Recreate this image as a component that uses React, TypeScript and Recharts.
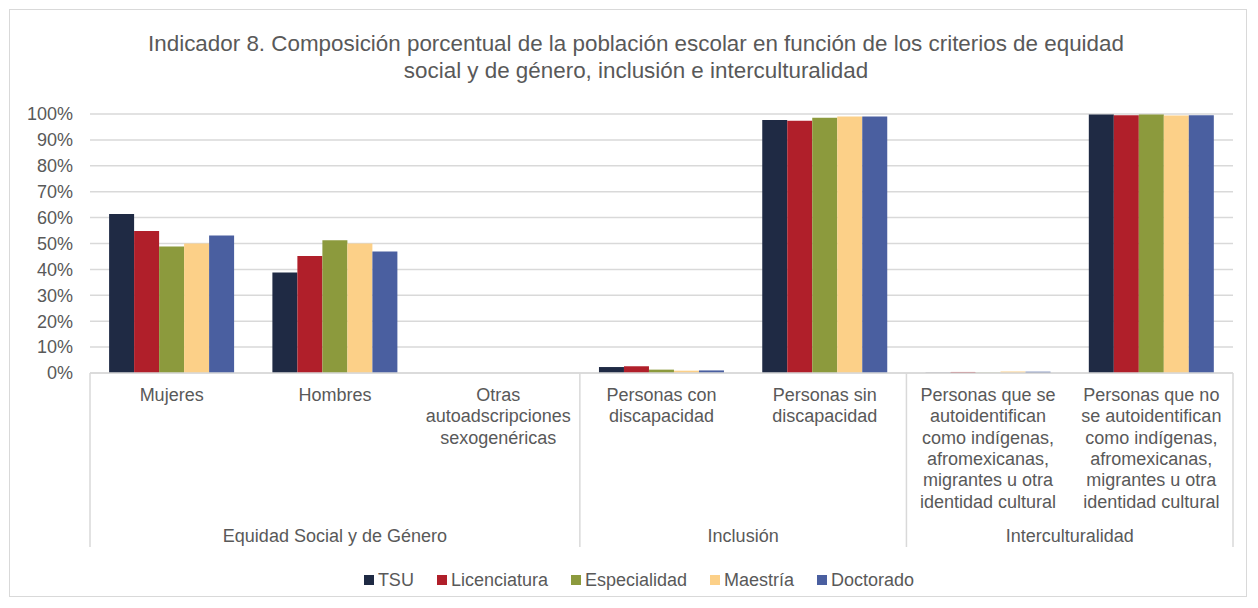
import React from 'react';
import { BarChart, Bar, XAxis, YAxis, CartesianGrid, Legend } from 'recharts';

const categories = [
  'Mujeres',
  'Hombres',
  'Otras\nautoadscripciones\nsexogenéricas',
  'Personas con\ndiscapacidad',
  'Personas sin\ndiscapacidad',
  'Personas que se\nautoidentifican\ncomo indígenas,\nafromexicanas,\nmigrantes u otra\nidentidad cultural',
  'Personas que no\nse autoidentifican\ncomo indígenas,\nafromexicanas,\nmigrantes u otra\nidentidad cultural',
];

const groupNames = ['Equidad Social y de Género', 'Inclusión', 'Interculturalidad'];
const groupStarts = [0, 3, 5];
const groupCounts = [3, 2, 2];

const seriesNames = ['TSU', 'Licenciatura', 'Especialidad', 'Maestría', 'Doctorado'];
const seriesColors = ['#1F2A44', '#B01F2A', '#8C9A3D', '#FCD088', '#4A5FA0'];

const tsu = [61.4, 38.8, 0, 2.3, 97.7, 0.1, 99.8];
const licenciatura = [54.8, 45.2, 0, 2.6, 97.4, 0.4, 99.5];
const especialidad = [48.8, 51.3, 0, 1.3, 98.6, 0.1, 99.8];
const maestria = [50.0, 50.0, 0, 0.9, 99.0, 0.6, 99.4];
const doctorado = [53.1, 46.9, 0, 1.0, 99.0, 0.5, 99.5];

const yTicks = [0, 10, 20, 30, 40, 50, 60, 70, 80, 90, 100];

const seriesValues = [tsu, licenciatura, especialidad, maestria, doctorado];
const data = categories.map((c, i) => {
  const row: any = { name: c };
  seriesNames.forEach((s, k) => {
    row[s] = seriesValues[k][i];
  });
  return row;
});

const FONT = '"Liberation Sans", Arial, sans-serif';
const TEXT = '#595959';
const LINE = '#D9D9D9';
const TICK_FS = 18;

const CategoryTick = (props: any) => {
  const { x, y, payload, index } = props;
  const idx = payload?.index ?? index ?? 0;
  const band = (props.width ?? 1143) / categories.length;
  const lines = String(payload.value).split('\n');
  const top = y;
  const elems: any[] = [];
  elems.push(
    <text key="lbl" x={x} y={top + 28} textAnchor="middle" fontFamily={FONT} fontSize={TICK_FS} fill={TEXT}>
      {lines.map((l, i) => (
        <tspan key={i} x={x} dy={i === 0 ? 0 : 21.3}>
          {l}
        </tspan>
      ))}
    </text>
  );
  const gi = groupStarts.indexOf(idx);
  if (gi >= 0) {
    const left = x - band / 2;
    elems.push(<line key="dl" x1={left} x2={left} y1={top} y2={top + 174} stroke={LINE} strokeWidth={1.5} />);
    const cx = left + (groupCounts[gi] * band) / 2;
    elems.push(
      <text key="gl" x={cx} y={top + 169} textAnchor="middle" fontFamily={FONT} fontSize={TICK_FS} fill={TEXT}>
        {groupNames[gi]}
      </text>
    );
  }
  if (idx === categories.length - 1) {
    const right = x + band / 2;
    elems.push(<line key="dr" x1={right} x2={right} y1={top} y2={top + 174} stroke={LINE} strokeWidth={1.5} />);
  }
  return <g>{elems}</g>;
};

const LegendContent = () => (
  <div
    style={{
      display: 'flex',
      justifyContent: 'center',
      alignItems: 'center',
      height: 20,
      fontFamily: FONT,
      fontSize: TICK_FS,
      color: TEXT,
      paddingLeft: 45,
    }}
  >
    {seriesNames.map((s, i) => (
      <div key={s} style={{ display: 'flex', alignItems: 'center', marginRight: i < seriesNames.length - 1 ? 23 : 0 }}>
        <span style={{ width: 10, height: 10, background: seriesColors[i], display: 'inline-block', marginRight: 4 }} />
        <span>{s}</span>
      </div>
    ))}
  </div>
);

export default function App() {
  return (
    <div style={{ position: 'absolute', left: 0, top: 0, width: 1258, height: 608, background: '#fff' }}>
      <div
        style={{
          position: 'absolute',
          left: 9,
          top: 9,
          width: 1238,
          height: 588,
          border: `1px solid ${LINE}`,
          boxSizing: 'border-box',
        }}
      />
      <div
        style={{
          position: 'absolute',
          left: 0,
          top: 30,
          width: 1272,
          textAlign: 'center',
          fontFamily: FONT,
          fontSize: 22.4,
          lineHeight: '27px',
          color: TEXT,
        }}
      >
        Indicador 8. Composición porcentual de la población escolar en función de los criterios de equidad
        <br />
        social y de género, inclusión e interculturalidad
      </div>
      <div style={{ position: 'absolute', left: 0, top: 0 }}>
        <BarChart
          width={1258}
          height={608}
          data={data}
          margin={{ top: 114, right: 25, left: 0, bottom: 18 }}
          barCategoryGap="11.7%"
          barGap={0}
        >
          <CartesianGrid vertical={false} stroke={LINE} strokeWidth={1.5} />
          <XAxis
            dataKey="name"
            interval={0}
            height={197}
            tick={<CategoryTick />}
            tickLine={false}
            tickSize={0}
            tickMargin={0}
            axisLine={{ stroke: LINE, strokeWidth: 1.5 }}
          />
          <YAxis
            width={90}
            domain={[0, 100]}
            ticks={yTicks}
            interval={0}
            tickFormatter={(v: number) => `${v}%`}
            axisLine={false}
            tickLine={false}
            tickMargin={11}
            tick={{ fontFamily: FONT, fontSize: TICK_FS, fill: TEXT }}
          />
          <Legend verticalAlign="bottom" height={20} content={<LegendContent />} />
          {seriesNames.map((s, i) => (
            <Bar key={s} dataKey={s} fill={seriesColors[i]} isAnimationActive={false} />
          ))}
        </BarChart>
      </div>
    </div>
  );
}
